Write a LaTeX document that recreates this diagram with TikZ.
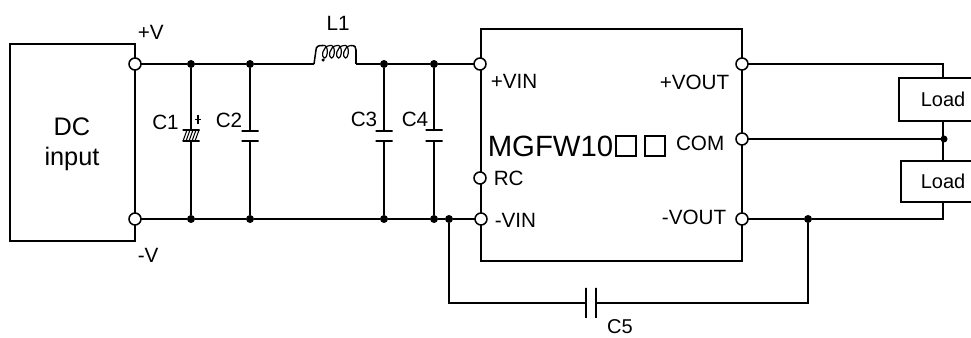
\documentclass[tikz,border=0pt]{standalone}
\usepackage{fontspec}
\setmainfont{Liberation Sans}
\usepackage{tikz}
\tikzset{term/.style={circle, draw, fill=white, inner sep=0pt, outer sep=0pt, minimum size=12*0.75pt},
         jdot/.style={circle, fill=black, inner sep=0pt, outer sep=0pt, minimum size=8*0.75pt},
         lab/.style={inner sep=0pt, font=\fontsize{15.5}{15.5}\selectfont},
         plate/.style={draw, inner sep=0pt, outer sep=0pt, minimum width=17*0.75pt, minimum height=0pt},
         vplate/.style={draw, inner sep=0pt, outer sep=0pt, minimum width=0pt, minimum height=30*0.75pt},
         blockbox/.style={draw, inner sep=0pt, outer sep=0pt},
         loadbox/.style={blockbox, font=\fontsize{15}{15}\selectfont},
         wire/.style={line width=1.15pt}}

\begin{document}
\begin{tikzpicture}[x=0.75pt, y=-0.75pt, wire]
        \useasboundingbox (0,0) rectangle (971,338);

        % Boxes
        \node[blockbox, minimum width=125*0.75pt, minimum height=197*0.75pt] (dcbox) at (72.5,142.5) {};
        \node[blockbox, minimum width=261*0.75pt, minimum height=232*0.75pt] (modbox) at (611.5,145) {};
        \node[loadbox, minimum width=88*0.75pt, minimum height=43*0.75pt] (load1) at (943,99.5) {Load};
        \node[loadbox, minimum width=84*0.75pt, minimum height=41*0.75pt] (load2) at (943,181.5) {Load};
        \node[lab, font=\fontsize{19}{19}\selectfont] (dc) at (72,127) {DC};
        \node[lab, font=\fontsize{19}{19}\selectfont] (input) at (72,159) {input};

        % Terminals
        \node[term] (vp) at (135,64) {};
        \node[term] (vm) at (135,219) {};
        \node[term] (vinp) at (480,64) {};
        \node[term] (rc) at (480,178) {};
        \node[term] (vinm) at (481,219) {};
        \node[term] (voutp) at (742,64) {};
        \node[term] (com) at (742,139) {};
        \node[term] (voutm) at (742,219) {};

        % Junctions
        \node[jdot] (c1t) at (191,64) {};
        \node[jdot] (c1b) at (191,219) {};
        \node[jdot] (c2t) at (250,64) {};
        \node[jdot] (c2b) at (250,219) {};
        \node[jdot] (c3t) at (384,64) {};
        \node[jdot] (c3b) at (384,219) {};
        \node[jdot] (c4t) at (434,64) {};
        \node[jdot] (c4b) at (434,219) {};
        \node[jdot] (c5l) at (449,219) {};
        \node[jdot] (c5r) at (808,219) {};
        \node[jdot, minimum size=7*0.75pt] (mid) at (944,139) {};

        % Capacitor plates
        \node[plate] (c1u) at (191,130) {};
        \node[plate] (c1d) at (191,141) {};
        \node[plate] (c2u) at (250,131) {};
        \node[plate] (c2d) at (250,141) {};
        \node[plate] (c3u) at (384,131) {};
        \node[plate] (c3d) at (384,141) {};
        \node[plate] (c4u) at (434,130) {};
        \node[plate] (c4d) at (434,141) {};
        \node[vplate] (c5a) at (586,303) {};
        \node[vplate] (c5b) at (596,303) {};

        % Free ends
        \coordinate (la) at (314,64);
        \coordinate (lb) at (356,64);
        \coordinate (topc) at (943,64);
        \coordinate (botc) at (943,219);
        \coordinate (c5lc) at (449,303);
        \coordinate (c5rc) at (808,303);

        % Rails
        \draw (vp) -- (c1t) -- (c2t) -- (la);
        \draw (lb) -- (c3t) -- (c4t) -- (vinp);
        \draw (vm) -- (c1b) -- (c2b) -- (c3b) -- (c4b) -- (c5l) -- (vinm);
        \draw (voutp) -- (topc) -- (load1.north);
        \draw (load1.south) -- (load2.north);
        \draw (com) -- (mid);
        \draw (load2.south) -- (botc) -- (c5r) -- (voutm);
        \draw (c5l) -- (c5lc) -- (c5a);
        \draw (c5r) -- (c5rc) -- (c5b);

        % C1
        \draw (c1t) -- (c1u);
        \draw (c1d) -- (c1b);
        \foreach \x in {183,186,189,192,195}
            \draw[line width=0.8pt] (\x,141) -- (\x+4,130);
        \draw (198,115) -- (198,124);
        \draw (195,119.5) -- (201,119.5);

        % C2, C3, C4
        \draw (c2t) -- (c2u);
        \draw (c2d) -- (c2b);
        \draw (c3t) -- (c3u);
        \draw (c3d) -- (c3b);
        \draw (c4t) -- (c4u);
        \draw (c4d) -- (c4b);

        % L1
        \draw (la) -- (316,50) .. controls (316,47) and (318,45) .. (323,45.5);
        \foreach \x in {323,330,337,344}
            \draw[line width=0.9pt] (\x,45.5) .. controls (\x+6,44) and (\x+5,58) .. (\x+1.5,58)
                  .. controls (\x-2,58) and (\x-1,46) .. (\x+7,45.5);
        \draw (351,45.5) .. controls (355,45.5) and (356,47) .. (356,50) -- (lb);
        \node[jdot, minimum size=3.5*0.75pt] (ldot) at (323,60) {};

        % Labels
        \node[lab, anchor=west] (vplab) at (137,32) {+V};
        \node[lab, anchor=west] (vmlab) at (137,255) {-V};
        \node[lab] (c1lab) at (165.5,122) {C1};
        \node[lab] (c2lab) at (229,120) {C2};
        \node[lab] (c3lab) at (364,119) {C3};
        \node[lab] (c4lab) at (415,119) {C4};
        \node[lab, font=\fontsize{15}{15}\selectfont] (c5lab) at (620,327) {C5};
        \node[lab] (l1lab) at (338,23) {L1};
        \node[lab, anchor=west] (vinplab) at (490,81) {+VIN};
        \node[lab, anchor=west] (rclab) at (493,178) {RC};
        \node[lab, anchor=west] (vinmlab) at (494,220) {-VIN};
        \node[lab, anchor=east] (voutplab) at (730,82) {+VOUT};
        \node[lab, anchor=east] (comlab) at (725,143) {COM};
        \node[lab, anchor=east] (voutmlab) at (727,217) {-VOUT};
        \node[lab, anchor=west, font=\fontsize{22}{22}\selectfont] (mgfw) at (487,146) {MGFW10};
        \draw (616,136) rectangle (636,156);
        \draw (645,136) rectangle (665,156);
\end{tikzpicture}
\end{document}
